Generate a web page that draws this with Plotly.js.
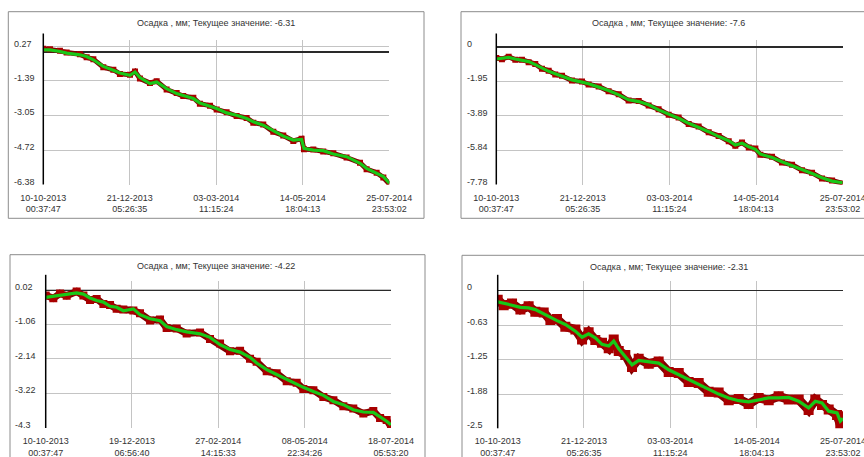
<!DOCTYPE html>
<html>
<head>
<meta charset="utf-8">
<script src="https://cdn.plot.ly/plotly-3.0.1.min.js"></script>
<style>html,body{margin:0;padding:0;background:#fff;}#chart{width:864px;height:457px;}</style>
</head>
<body>
<div id="chart"></div>
<script>
// ---------- DATA ----------
const titles = [
  'Осадка , мм; Текущее значение: -6.31',
  'Осадка , мм; Текущее значение: -7.6',
  'Осадка , мм; Текущее значение: -4.22',
  'Осадка , мм; Текущее значение: -2.31'
];

const xTickValsA = ['2013-10-10 00:37:47','2013-12-21 05:26:35','2014-03-03 11:15:24','2014-05-14 18:04:13','2014-07-25 23:53:02'];
const xTickTextA = ['10-10-2013<br>00:37:47','21-12-2013<br>05:26:35','03-03-2014<br>11:15:24','14-05-2014<br>18:04:13','25-07-2014<br>23:53:02'];
const xTickValsB = ['2013-10-10 00:37:47','2013-12-19 06:56:40','2014-02-27 14:15:33','2014-05-08 22:34:26','2014-07-18 05:53:20'];
const xTickTextB = ['10-10-2013<br>00:37:47','19-12-2013<br>06:56:40','27-02-2014<br>14:15:33','08-05-2014<br>22:34:26','18-07-2014<br>05:53:20'];

const yTicks1 = [0.27, -1.39, -3.05, -4.72, -6.38];
const yTicks2 = [0, -1.95, -3.89, -5.84, -7.78];
const yTicks3 = [0.02, -1.06, -2.14, -3.22, -4.3];
const yTicks4 = [0, -0.63, -1.25, -1.88, -2.5];

// days since 10-10-2013 00:37:47
const days1 = [0,5.6,13.9,19.5,30.6,36.2,41.8,50.1,58.5,64.0,72.4,76.6,80.7,89.1,94.7,103.0,111.4,116.9,125.3,130.8,139.2,144.8,153.1,161.5,169.8,175.4,183.7,192.1,200.4,208.8,215.7,217.7,225.5,233.8,242.2,253.3,264.5,270.0,278.4,284.0,289.0];
const smooth1 = [0.11,0.11,0.03,-0.05,-0.13,-0.21,-0.37,-0.69,-0.88,-1.01,-1.12,-0.96,-1.23,-1.52,-1.44,-1.76,-2.00,-2.08,-2.24,-2.45,-2.61,-2.72,-2.93,-3.04,-3.20,-3.36,-3.52,-3.80,-4.05,-4.24,-4.21,-4.64,-4.72,-4.75,-4.91,-5.04,-5.36,-5.60,-5.84,-6.00,-6.31];
const raw1 = [0.16,0.14,0.06,-0.02,-0.10,-0.25,-0.34,-0.73,-0.85,-1.05,-1.09,-0.93,-1.27,-1.49,-1.40,-1.80,-1.97,-2.12,-2.20,-2.49,-2.58,-2.76,-2.90,-3.08,-3.17,-3.40,-3.49,-3.84,-4.02,-4.28,-4.17,-4.68,-4.69,-4.79,-4.88,-5.08,-5.33,-5.64,-5.81,-6.04,-6.35];

const days2 = [0,4.7,10.3,15.9,21.4,27.0,32.5,38.1,43.7,49.2,54.8,63.1,71.5,77.0,85.4,93.7,102.1,110.4,118.8,127.1,135.4,143.8,152.1,160.5,168.8,177.2,185.5,193.9,199.4,205.0,210.6,216.1,220.3,230.0,238.3,246.7,255.0,263.4,271.7,280.1,289.0];
const smooth2 = [-0.68,-0.64,-0.59,-0.68,-0.76,-0.83,-1.00,-1.19,-1.38,-1.51,-1.67,-1.86,-1.99,-2.08,-2.27,-2.46,-2.71,-2.99,-3.09,-3.27,-3.56,-3.79,-4.03,-4.32,-4.54,-4.79,-5.07,-5.30,-5.55,-5.45,-5.64,-5.79,-6.06,-6.25,-6.49,-6.70,-6.93,-7.16,-7.40,-7.59,-7.68];
const raw2 = [-0.62,-0.69,-0.55,-0.72,-0.72,-0.87,-0.96,-1.23,-1.34,-1.55,-1.63,-1.90,-1.95,-2.12,-2.23,-2.50,-2.67,-3.03,-3.05,-3.31,-3.52,-3.83,-3.99,-4.36,-4.50,-4.83,-5.03,-5.34,-5.59,-5.41,-5.68,-5.75,-6.10,-6.21,-6.53,-6.66,-6.97,-7.12,-7.44,-7.55,-7.72];

const days3 = [0,6.2,11.7,17.1,25.2,30.7,36.1,41.5,47.0,52.4,57.8,63.2,71.4,76.8,85.0,93.1,98.5,106.7,114.8,125.7,133.8,142.0,150.1,158.3,166.4,171.8,180.0,188.1,196.3,204.4,209.8,218.0,226.1,234.3,242.4,250.5,258.7,266.8,272.3,277.7,281.2];
const smooth3 = [-0.22,-0.19,-0.14,-0.12,-0.08,-0.12,-0.24,-0.32,-0.37,-0.50,-0.53,-0.64,-0.58,-0.76,-0.89,-0.95,-1.13,-1.23,-1.30,-1.36,-1.47,-1.70,-1.85,-1.93,-2.09,-2.27,-2.48,-2.63,-2.79,-2.93,-3.03,-3.16,-3.28,-3.47,-3.57,-3.73,-3.80,-3.81,-3.94,-4.09,-4.20];
const raw3 = [-0.16,-0.25,-0.10,-0.17,-0.04,-0.16,-0.30,-0.27,-0.43,-0.46,-0.58,-0.60,-0.63,-0.72,-0.94,-0.91,-1.18,-1.19,-1.35,-1.32,-1.52,-1.66,-1.90,-1.89,-2.14,-2.23,-2.53,-2.59,-2.84,-2.89,-3.08,-3.12,-3.33,-3.43,-3.62,-3.69,-3.85,-3.77,-3.99,-4.05,-4.26];

const days4 = [0,5.0,12.0,19.0,25.9,31.5,38.5,44.1,49.6,56.6,65.0,70.6,76.1,81.7,87.3,92.9,97.1,101.3,106.8,112.4,118.0,126.4,134.7,143.1,151.5,159.8,168.2,176.6,184.9,193.3,201.7,210.0,218.4,226.8,235.1,243.5,251.9,260.2,265.8,271.4,277.0,284.0,286.7,289.0];
const smooth4 = [-0.21,-0.23,-0.27,-0.31,-0.32,-0.35,-0.43,-0.50,-0.55,-0.62,-0.74,-0.85,-0.79,-0.86,-0.98,-1.01,-0.92,-1.06,-1.20,-1.35,-1.27,-1.29,-1.32,-1.44,-1.53,-1.62,-1.71,-1.80,-1.88,-1.95,-2.00,-2.02,-1.98,-1.95,-1.95,-1.94,-2.01,-2.13,-2.01,-2.04,-2.19,-2.22,-2.37,-2.32];
const raw4 = [-0.17,-0.27,-0.24,-0.35,-0.29,-0.39,-0.40,-0.54,-0.52,-0.66,-0.71,-0.89,-0.76,-0.90,-0.95,-1.05,-0.89,-1.10,-1.17,-1.39,-1.24,-1.33,-1.29,-1.48,-1.50,-1.66,-1.68,-1.84,-1.85,-1.99,-1.97,-2.06,-1.95,-1.99,-1.92,-1.98,-1.98,-2.17,-1.98,-2.08,-2.16,-2.26,-2.43,-2.28];

// ---------- BUILD ----------
const W = 864, H = 457;
const T0 = Date.UTC(2013, 9, 10, 0, 37, 47);
const toX = days => days.map(d => T0 + d * 86400000);
const px = v => v / W;
const py = v => 1 - v / H;
const FONT = 'Liberation Sans, Arial, sans-serif';
const TXT = '#333333';

const panels = [
  {days: days1, smooth: smooth1, raw: raw1, yt: yTicks1, yr: [-6.38, 0.583], xv: xTickValsA, xt: xTickTextA,
   xd: [43.3, 389.3], yd: [40, 184.5], frame: [8.3, 11.7, 424, 218.3], labX: 12, titleX: 216, titleY: 22.5, band: 5},
  {days: days2, smooth: smooth2, raw: raw2, yt: yTicks2, yr: [-7.78, 0.395], xv: xTickValsA, xt: xTickTextA,
   xd: [496.3, 842.7], yd: [40, 184.5], frame: [461, 11.7, 880, 218.3], labX: 465, titleX: 668, titleY: 22.5, band: 5},
  {days: days3, smooth: smooth3, raw: raw3, yt: yTicks3, yr: [-4.3, 0.28], xv: xTickValsB, xt: xTickTextB,
   xd: [45.7, 391], yd: [281.3, 428], frame: [10, 254.7, 425, 470], labX: 13.3, titleX: 216, titleY: 266, band: 7},
  {days: days4, smooth: smooth4, raw: raw4, yt: yTicks4, yr: [-2.5, 0.163], xv: xTickValsA, xt: xTickTextA,
   xd: [497.7, 843], yd: [281.3, 428.3], frame: [462, 255.3, 880, 470], labX: 465.3, titleX: 669, titleY: 266.5, band: 9}
];

const data = [];
const layout = {
  width: W, height: H,
  margin: {l: 0, r: 0, t: 0, b: 0},
  paper_bgcolor: '#ffffff', plot_bgcolor: '#ffffff',
  showlegend: false,
  font: {family: FONT, size: 9, color: TXT},
  shapes: [], annotations: []
};

panels.forEach((p, i) => {
  const n = i + 1;
  const xa = 'x' + (n === 1 ? '' : n), ya = 'y' + (n === 1 ? '' : n);
  const xk = 'xaxis' + (n === 1 ? '' : n), yk = 'yaxis' + (n === 1 ? '' : n);
  const xs = toX(p.days);
  data.push({x: xs, y: p.raw, xaxis: xa, yaxis: ya, type: 'scatter', mode: 'lines+markers',
    line: {color: '#7e0000', width: p.band}, marker: {color: '#a80000', size: p.band + 1, symbol: 'square'}, hoverinfo: 'skip'});
  data.push({x: xs, y: p.smooth, xaxis: xa, yaxis: ya, type: 'scatter', mode: 'lines',
    line: {color: '#18c818', width: 3.2}, hoverinfo: 'skip'});

  layout[xk] = {
    domain: [px(p.xd[0]), px(p.xd[1])], anchor: ya, type: 'date',
    range: [p.xv[0], p.xv[4]], tickmode: 'array', tickvals: p.xv, ticktext: p.xt,
    showgrid: true, gridcolor: '#c4c4c4', gridwidth: 1, zeroline: false, showline: false,
    ticks: '', ticklabelstandoff: 6, ticklabeloverflow: 'allow',
    tickfont: {family: FONT, size: 9, color: TXT}, fixedrange: true
  };
  layout[yk] = {
    domain: [py(p.yd[1]), py(p.yd[0])], anchor: xa,
    range: p.yr, tickmode: 'array', tickvals: p.yt, showticklabels: false,
    showgrid: true, gridcolor: '#c4c4c4', gridwidth: 1,
    zeroline: true, zerolinecolor: '#2a2a2a', zerolinewidth: 1.4, showline: false, fixedrange: true
  };

  // frame
  layout.shapes.push({type: 'rect', xref: 'paper', yref: 'paper',
    x0: px(p.frame[0]), x1: px(p.frame[2]), y0: py(p.frame[3]), y1: py(p.frame[1]),
    line: {color: '#8c8c8c', width: 1}, fillcolor: 'rgba(0,0,0,0)', layer: 'below'});
  // y axis line extending above plot area
  const ext = 1 + 6.5 / (p.yd[1] - p.yd[0]);
  layout.shapes.push({type: 'line', xref: xa + ' domain', yref: ya + ' domain',
    x0: 0, x1: 0, y0: 0, y1: ext, line: {color: '#000000', width: 1.5}});

  // title
  layout.annotations.push({text: titles[i], xref: 'paper', yref: 'paper', x: px(p.titleX), y: py(p.titleY),
    xanchor: 'center', yanchor: 'middle', showarrow: false, font: {family: FONT, size: 9, color: TXT}});
  // y tick labels (left aligned)
  p.yt.forEach(v => {
    layout.annotations.push({text: String(v), xref: 'paper', yref: ya, x: px(p.labX), y: v,
      xanchor: 'left', yanchor: 'middle', yshift: 3, showarrow: false,
      font: {family: FONT, size: 9, color: TXT}});
  });
});

Plotly.newPlot('chart', data, layout, {staticPlot: true, displayModeBar: false});
</script>
</body>
</html>
